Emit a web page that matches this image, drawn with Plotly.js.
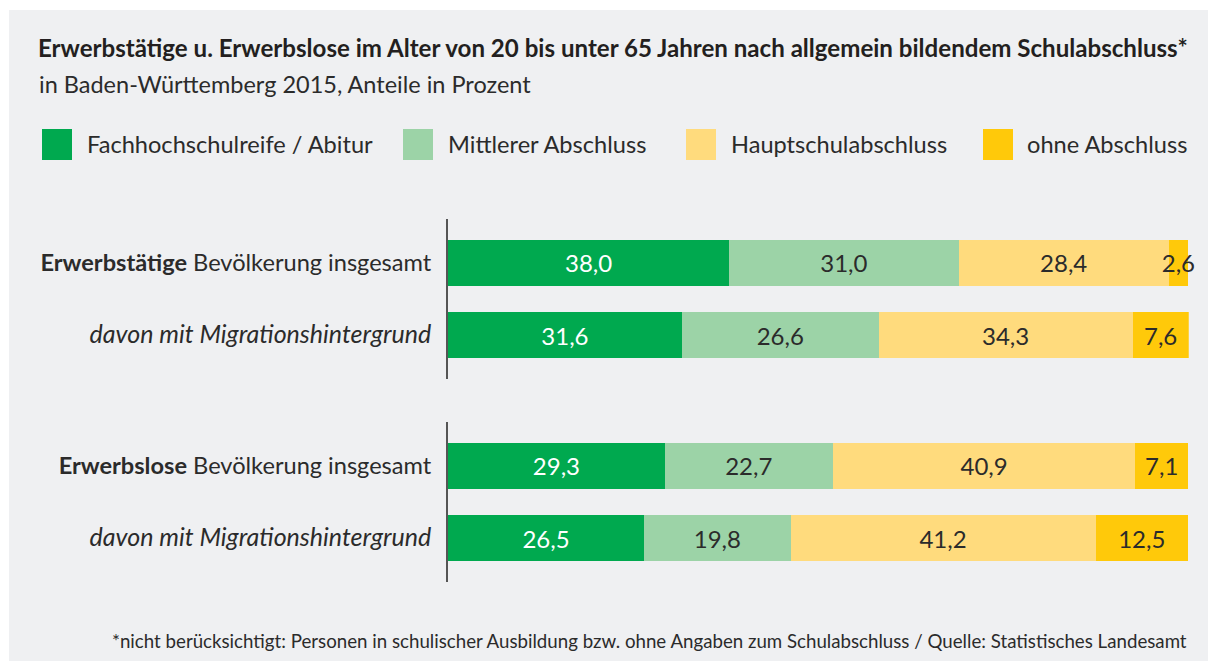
<!DOCTYPE html>
<html>
<head>
<meta charset="utf-8">
<script src="https://cdn.plot.ly/plotly-3.0.1.min.js"></script>
<style>html,body{margin:0;padding:0;background:#fff;}#chart{width:1208px;height:661px;}</style>
</head>
<body>
<div id="chart"></div>
<script>
// ---- data ----
const seriesNames = ["Fachhochschulreife / Abitur", "Mittlerer Abschluss", "Hauptschulabschluss", "ohne Abschluss"];
const seriesColors = ["#00a94f", "#9cd3a7", "#ffdb7d", "#ffc90a"];
const textColors = ["#ffffff", "#2b2b2b", "#2b2b2b", "#2b2b2b"];

const rowsTop = ["Erwerbstätige insgesamt", "Erwerbstätige mit Migrationshintergrund"];
const rowsBottom = ["Erwerbslose insgesamt", "Erwerbslose mit Migrationshintergrund"];
const labelsTop = ["<b>Erwerbstätige</b> Bevölkerung insgesamt", "<i>davon mit Migrationshintergrund</i>"];
const labelsBottom = ["<b>Erwerbslose</b> Bevölkerung insgesamt", "<i>davon mit Migrationshintergrund</i>"];

// values per series: [Bevölkerung insgesamt, davon mit Migrationshintergrund]
const erwerbstaetigeFH = [38.0, 31.6];
const erwerbstaetigeMittel = [31.0, 26.6];
const erwerbstaetigeHaupt = [28.4, 34.3];
const erwerbstaetigeOhne = [2.6, 7.6];

const erwerbsloseFH = [29.3, 26.5];
const erwerbsloseMittel = [22.7, 19.8];
const erwerbsloseHaupt = [40.9, 41.2];
const erwerbsloseOhne = [7.1, 12.5];

const titleText = "Erwerbstätige u. Erwerbslose im Alter von 20 bis unter 65 Jahren nach allgemein bildendem Schulabschluss*";
const subtitleText = "in Baden-Württemberg 2015, Anteile in Prozent";
const footnoteText = "*nicht berücksichtigt: Personen in schulischer Ausbildung bzw. ohne Angaben zum Schulabschluss / Quelle: Statistisches Landesamt";

// ---- layout helpers ----
const W = 1208, H = 661;
const px = v => v / W;
const py = v => 1 - v / H;
const FONT = "Lato, 'Open Sans', sans-serif";
const TXT = "#2b2b2b";

const topSeries = [erwerbstaetigeFH, erwerbstaetigeMittel, erwerbstaetigeHaupt, erwerbstaetigeOhne];
const bottomSeries = [erwerbsloseFH, erwerbsloseMittel, erwerbsloseHaupt, erwerbsloseOhne];

const traces = [];
function addGroup(seriesArr, rows, yaxis) {
  seriesArr.forEach((vals, i) => {
    traces.push({
      type: "bar",
      orientation: "h",
      x: vals,
      y: rows,
      yaxis: yaxis,
      xaxis: "x",
      name: seriesNames[i],
      showlegend: false,
      marker: {color: seriesColors[i], line: {width: 0}},
      width: 0.64,
      texttemplate: "%{x:.1f}",
      textposition: "inside",
      insidetextanchor: "middle",
      constraintext: "none",
      textangle: 0,
      insidetextfont: {family: FONT, size: 24, color: textColors[i]},
      hoverinfo: "skip",
      cliponaxis: false
    });
  });
}
addGroup(topSeries, rowsTop, "y");
addGroup(bottomSeries, rowsBottom, "y2");

const yCommon = {
  type: "category",
  showline: true,
  linecolor: "#555555",
  linewidth: 2,
  showgrid: false,
  zeroline: false,
  ticks: "",
  ticklabelstandoff: 10,
  tickfont: {family: FONT, size: 23.6, color: TXT},
  range: [1.611, -0.611],
  fixedrange: true
};
const italicSize = s => s.replace("<i>", '<span style="font-size:25px"><i>').replace("</i>", "</i></span>");

// legend drawn manually with shapes + annotations
const legendSquareX = [42, 403, 686, 983];
const legendTextX = [88, 449, 732, 1028];
const shapes = [
  {type: "rect", xref: "paper", yref: "paper", x0: px(9), x1: 1, y0: 0, y1: py(10),
   fillcolor: "#eff0f2", line: {width: 0}, layer: "below"}
];
const annotations = [
  {text: subtitleText, xref: "paper", yref: "paper", x: px(37), y: py(84), xanchor: "left", yanchor: "middle",
   showarrow: false, font: {family: FONT, size: 23.5, color: TXT}},
  {text: footnoteText, xref: "paper", yref: "paper", x: px(1189), y: py(641), xanchor: "right", yanchor: "middle",
   showarrow: false, font: {family: FONT, size: 18.7, color: TXT}}
];
seriesNames.forEach((n, i) => {
  shapes.push({type: "rect", xref: "paper", yref: "paper",
    x0: px(legendSquareX[i]), x1: px(legendSquareX[i] + 30), y0: py(160), y1: py(129),
    fillcolor: seriesColors[i], line: {width: 0}});
  annotations.push({text: n, xref: "paper", yref: "paper", x: px(legendTextX[i] - 3), y: py(144),
    xanchor: "left", yanchor: "middle", showarrow: false, font: {family: FONT, size: 23.6, color: TXT}});
});

const XMAX = 100.1;
const layout = {
  width: W, height: H,
  margin: {l: 0, r: 0, t: 0, b: 0, pad: 0},
  paper_bgcolor: "#ffffff",
  plot_bgcolor: "rgba(0,0,0,0)",
  separators: ",.",
  barmode: "stack",
  showlegend: false,
  title: {text: "<b>" + titleText + "</b>", xref: "paper", yref: "paper", x: px(38), xanchor: "left",
          y: py(49), yanchor: "middle", font: {family: FONT, size: 24.1, color: "#231f20"}},
  xaxis: {domain: [px(448), px(448 + 7.4 * XMAX)], range: [0, XMAX], visible: false, fixedrange: true, anchor: "y"},
  yaxis: Object.assign({}, yCommon, {domain: [py(379), py(219)], anchor: "x",
          tickvals: rowsTop, ticktext: labelsTop.map(italicSize)}),
  yaxis2: Object.assign({}, yCommon, {domain: [py(582), py(422)], anchor: "x",
          tickvals: rowsBottom, ticktext: labelsBottom.map(italicSize)}),
  shapes: shapes,
  annotations: annotations
};

Plotly.newPlot("chart", traces, layout, {displayModeBar: false, staticPlot: true});
</script>
</body>
</html>
